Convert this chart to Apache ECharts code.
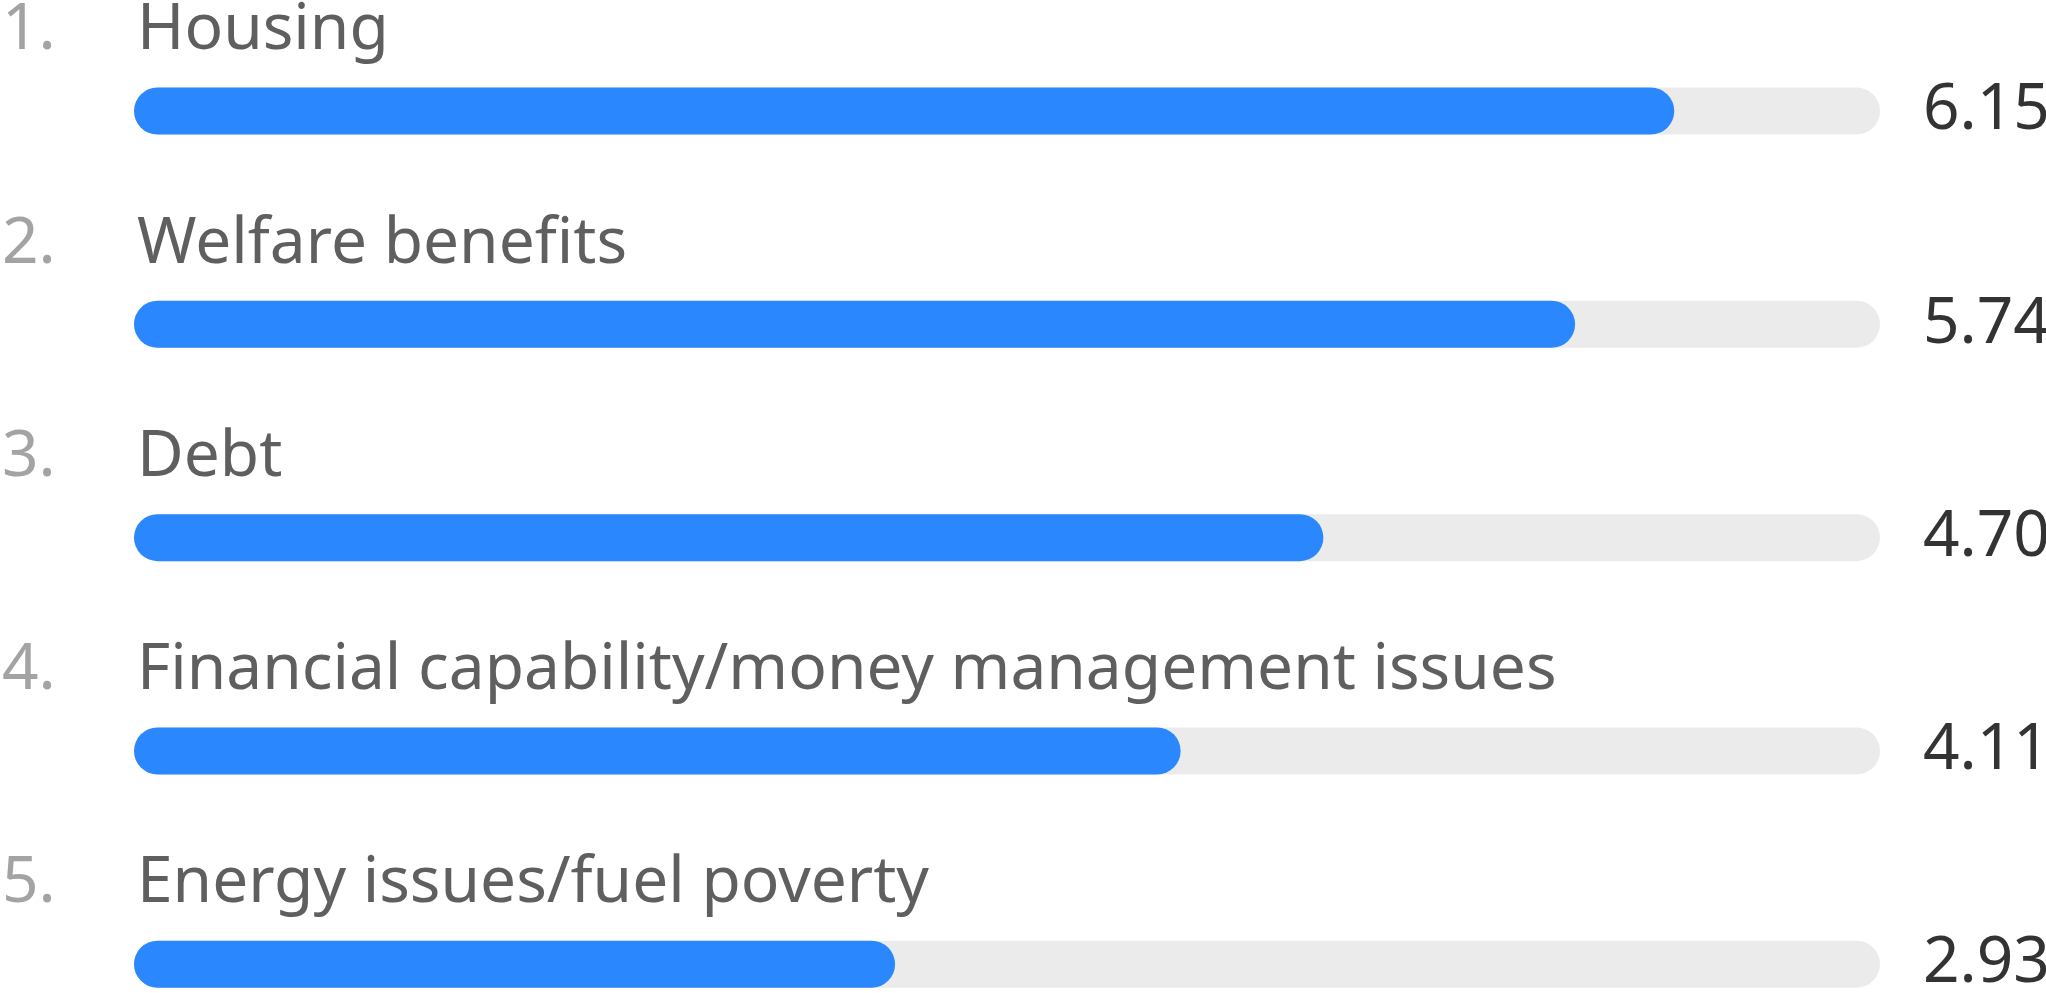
<!DOCTYPE html>
<html>
<head>
<meta charset="utf-8">
<script src="https://cdn.jsdelivr.net/npm/echarts@6/dist/echarts.min.js"></script>
<style>
  html, body { margin: 0; padding: 0; background: #fff; }
  #chart { width: 2046px; height: 993px; }
</style>
</head>
<body>
<div id="chart"></div>
<script>
// 数据
const ranks = ['1.', '2.', '3.', '4.', '5.'];
const categories = [
    'Housing',
    'Welfare benefits',
    'Debt',
    'Financial capability/money management issues',
    'Energy issues/fuel poverty'
];
const values = [6.15, 5.74, 4.70, 4.11, 2.93];
const trackMax = 7;

const FONT = '"Noto Sans", "Open Sans", sans-serif';
const BAR_H = 47;
const PAD = 52;      // 圆头向左延伸

const chart = echarts.init(document.getElementById('chart'));

// 灰色底条
function renderTrack(params, api) {
    const idx = api.value(0);
    const start = api.coord([0, idx]);
    const end = api.coord([trackMax, idx]);
    return {
        type: 'rect',
        shape: {
            x: start[0] - PAD,
            y: start[1] - BAR_H / 2,
            width: end[0] - start[0] + PAD,
            height: BAR_H,
            r: BAR_H / 2
        },
        style: { fill: '#ebebeb' }
    };
}

// 蓝色数值条 + 文字
function renderBar(params, api) {
    const idx = api.value(0);
    const v = api.value(1);
    const start = api.coord([0, idx]);
    const end = api.coord([v, idx]);
    const trackEnd = api.coord([trackMax, idx]);
    const cy = start[1];
    return {
        type: 'group',
        children: [
            {
                type: 'rect',
                shape: {
                    x: start[0] - PAD,
                    y: cy - BAR_H / 2,
                    width: end[0] - start[0] + PAD,
                    height: BAR_H,
                    r: BAR_H / 2
                },
                style: { fill: '#2b87fd' }
            },
            {
                type: 'text',
                style: {
                    x: 2,
                    y: cy - 80,
                    text: ranks[idx],
                    fill: '#a3a3a3',
                    font: '64px ' + FONT,
                    verticalAlign: 'middle'
                }
            },
            {
                type: 'text',
                style: {
                    x: start[0] - PAD + 3,
                    y: cy - 80,
                    text: categories[idx],
                    fill: '#5f5f5f',
                    font: '64px ' + FONT,
                    verticalAlign: 'middle'
                }
            },
            {
                type: 'text',
                style: {
                    x: trackEnd[0] + 43,
                    y: cy,
                    text: v.toFixed(2),
                    fill: '#333333',
                    font: '64px ' + FONT,
                    verticalAlign: 'middle'
                }
            }
        ]
    };
}

const barData = values.map((v, i) => [i, v]);

chart.setOption({
    animation: false,
    grid: { left: 186, right: 166, top: 4.4, bottom: 0 },
    xAxis: { type: 'value', min: 0, max: trackMax, show: false },
    // 每行间距约 213px
    yAxis: { type: 'value', min: -0.5, max: 4.135, inverse: true, show: false },
    series: [
        {
            type: 'custom',
            name: 'track',
            renderItem: renderTrack,
            data: barData,
            encode: { x: 1, y: 0 },
            silent: true
        },
        {
            type: 'custom',
            name: 'value',
            renderItem: renderBar,
            data: barData,
            encode: { x: 1, y: 0 }
        }
    ]
});
</script>
</body>
</html>
